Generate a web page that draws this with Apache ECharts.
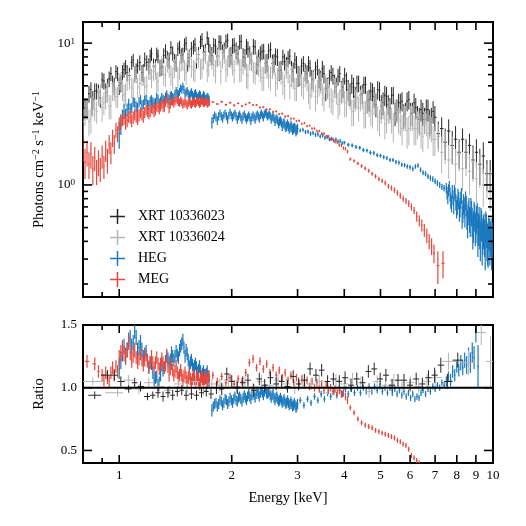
<!DOCTYPE html>
<html lang="en">
<head>
<meta charset="UTF-8">
<title>Spectrum and ratio</title>
<script src="https://cdn.jsdelivr.net/npm/echarts@6/dist/echarts.min.js"></script>
</head>
<body style="margin:0">
<div id="main" style="width:526px;height:526px;"></div>
<script type="text/javascript">
// [energy keV, value, error]
var xrt1Spec = [[0.80,3.9,0.6],[0.82,3.5,0.6],[0.84,4.7,0.6],[0.85,4.0,0.6],[0.87,4.6,0.6],[0.89,4.1,0.6],[0.91,5.4,0.7],[0.93,4.9,0.7],[0.95,6.1,0.7],[0.97,5.0,0.7],[0.99,6.1,0.7],[1.01,5.2,0.7],[1.03,6.5,0.8],[1.05,6.2,0.8],[1.08,7.3,0.8],[1.10,6.1,0.8],[1.12,6.9,0.8],[1.15,6.2,0.8],[1.17,7.7,0.9],[1.20,6.9,0.9],[1.22,8.4,0.9],[1.25,6.8,0.9],[1.27,8.1,0.9],[1.30,6.8,0.9],[1.33,8.8,1.0],[1.36,7.6,1.0],[1.39,8.5,1.0],[1.42,7.3,1.0],[1.45,9.4,1.0],[1.48,8.3,1.0],[1.51,10.0,1.1],[1.54,7.9,1.1],[1.58,9.4,1.1],[1.61,7.7,1.1],[1.65,10.2,1.1],[1.68,8.6,1.1],[1.72,10.9,1.2],[1.75,8.6,1.2],[1.79,9.7,1.2],[1.83,8.1,1.2],[1.87,10.1,1.2],[1.91,8.9,1.2],[1.95,10.5,1.2],[1.99,8.2,1.2],[2.03,9.7,1.2],[2.08,8.4,1.2],[2.12,10.3,1.2],[2.17,7.9,1.2],[2.21,9.1,1.2],[2.26,7.5,1.1],[2.31,9.4,1.1],[2.36,7.9,1.1],[2.41,8.7,1.1],[2.46,7.2,1.1],[2.51,8.8,1.1],[2.57,7.2,1.1],[2.62,8.1,1.1],[2.68,6.4,1.0],[2.74,8.0,1.0],[2.80,7.0,1.0],[2.86,8.1,1.0],[2.92,6.3,1.0],[2.98,7.1,1.0],[3.04,5.9,0.9],[3.11,7.2,0.9],[3.18,6.1,0.9],[3.24,6.7,0.9],[3.31,5.5,0.9],[3.39,6.8,0.9],[3.46,5.5,0.9],[3.53,6.1,0.9],[3.61,4.9,0.8],[3.69,6.2,0.8],[3.77,5.2,0.8],[3.85,5.8,0.8],[3.93,4.6,0.8],[4.01,5.9,0.8],[4.10,4.7,0.8],[4.19,5.2,0.8],[4.28,4.2,0.7],[4.37,5.2,0.7],[4.47,4.4,0.7],[4.56,5.1,0.7],[4.66,4.0,0.7],[4.76,4.5,0.7],[4.86,3.7,0.7],[4.97,4.6,0.7],[5.08,3.8,0.7],[5.19,4.2,0.7],[5.30,3.5,0.6],[5.41,4.3,0.6],[5.53,3.4,0.6],[5.65,3.8,0.6],[5.77,3.1,0.6],[5.89,3.9,0.6],[6.02,3.2,0.6],[6.15,3.8,0.6],[6.28,3.0,0.6],[6.42,3.4,0.6],[6.56,2.9,0.6],[6.70,3.4,0.6],[6.84,2.9,0.6],[6.99,3.0,0.6],[7.14,2.3,0.5],[7.29,2.5,0.5],[7.45,2.0,0.5],[7.61,2.4,0.5],[7.78,1.9,0.5],[7.94,2.1,0.5],[8.12,1.7,0.4],[8.29,2.1,0.4],[8.47,1.7,0.4],[8.65,1.9,0.4],[8.84,1.5,0.4],[9.03,1.7,0.4],[9.22,1.4,0.4],[9.42,1.6,0.4],[9.63,1.2,0.3],[9.83,1.2,0.3]];
var xrt1SpecFine = [[0.81,3.5,0.6],[0.83,4.4,0.6],[0.845,3.7,0.6],[0.86,4.6,0.6],[0.88,4.5,0.6],[0.90,5.5,0.7],[0.92,4.5,0.7],[0.94,5.6,0.7],[0.96,5.2,0.7],[0.98,6.3,0.7],[1.00,5.0,0.7],[1.02,6.2,0.8],[1.04,6.8,0.8],[1.065,5.9,0.8],[1.09,7.6,0.8],[1.11,6.4,0.8],[1.135,7.3,0.9],[1.16,6.2,0.9],[1.185,7.3,0.9],[1.21,8.1,0.9],[1.235,6.9,0.9],[1.26,8.4,0.9],[1.285,6.7,0.9],[1.315,8.2,1.0],[1.345,7.8,1.0],[1.375,9.3,1.0],[1.405,7.4,1.0],[1.435,9.1,1.0],[1.465,8.2,1.0],[1.495,9.7,1.1],[1.525,7.4,1.1],[1.56,9.1,1.1],[1.595,9.8,1.1],[1.63,8.3,1.1],[1.665,10.6,1.2],[1.70,8.7,1.2],[1.735,9.8,1.2],[1.77,8.2,1.2],[1.81,9.5,1.2],[1.85,10.2,1.2],[1.89,8.6,1.2],[1.93,10.3,1.2],[1.97,8.0,1.2],[2.01,9.6,1.2],[2.055,8.9,1.2],[2.10,10.2,1.2],[2.145,8.0,1.2],[2.19,9.5,1.2],[2.235,8.3,1.2],[2.285,9.5,1.2],[2.335,7.1,1.1],[2.385,8.4,1.1],[2.435,8.8,1.1],[2.485,7.3,1.1],[2.54,9.0,1.1],[2.595,7.3,1.1],[2.65,8.0,1.1],[2.71,6.5,1.0],[2.77,7.4,1.0],[2.83,7.8,1.0],[2.89,6.5,1.0],[2.95,7.6,1.0],[3.01,5.9,1.0],[3.075,6.9,0.9],[3.145,6.3,0.9],[3.21,7.2,0.9],[3.275,5.6,0.9],[3.35,6.5,0.9],[3.425,5.7,0.9],[3.495,6.6,0.9],[3.57,4.8,0.9],[3.65,5.7,0.8],[3.73,5.9,0.8],[3.81,4.9,0.8],[3.89,6.1,0.8],[3.97,4.9,0.8],[4.055,5.4,0.8],[4.145,4.4,0.8],[4.235,4.9,0.8],[4.325,5.2,0.7],[4.42,4.3,0.7],[4.515,5.1,0.7],[4.61,3.9,0.7],[4.71,4.6,0.7],[4.81,4.2,0.7],[4.915,4.7,0.7],[5.025,3.6,0.7],[5.135,4.3,0.7],[5.245,3.7,0.6],[5.355,4.3,0.6],[5.47,3.2,0.6],[5.59,3.8,0.6],[5.71,3.9,0.6],[5.83,3.2,0.6],[5.955,4.0,0.6],[6.085,3.2,0.6],[6.215,3.5,0.6],[6.35,2.9,0.6],[6.49,3.2,0.6],[6.63,3.4,0.6],[6.77,2.8,0.6],[6.915,3.3,0.6]];

var xrt2Spec = [[0.80,2.8,0.6],[0.82,3.5,0.6],[0.84,2.9,0.6],[0.85,3.6,0.6],[0.87,3.3,0.6],[0.89,4.4,0.7],[0.91,3.8,0.7],[0.93,4.5,0.7],[0.95,3.6,0.7],[0.97,4.6,0.7],[0.99,4.2,0.7],[1.01,5.4,0.8],[1.03,4.3,0.8],[1.05,5.4,0.8],[1.08,4.9,0.8],[1.10,6.1,0.8],[1.12,4.9,0.8],[1.15,5.9,0.9],[1.17,4.9,0.9],[1.20,6.4,0.9],[1.22,5.7,0.9],[1.25,6.4,0.9],[1.27,5.4,0.9],[1.30,7.1,1.0],[1.33,5.9,1.0],[1.36,6.7,1.0],[1.39,5.7,1.0],[1.42,7.4,1.0],[1.45,6.5,1.0],[1.48,7.5,1.1],[1.51,6.2,1.1],[1.54,7.7,1.1],[1.58,6.5,1.1],[1.61,8.3,1.1],[1.65,6.6,1.1],[1.68,7.6,1.1],[1.72,6.4,1.1],[1.75,8.1,1.2],[1.79,7.0,1.2],[1.83,7.9,1.2],[1.87,6.3,1.2],[1.91,8.3,1.2],[1.95,7.0,1.2],[1.99,7.8,1.2],[2.03,6.4,1.2],[2.08,8.1,1.2],[2.12,6.5,1.2],[2.17,7.6,1.2],[2.21,5.9,1.2],[2.26,7.5,1.1],[2.31,6.2,1.1],[2.36,6.9,1.1],[2.41,5.7,1.1],[2.46,7.2,1.1],[2.51,5.9,1.1],[2.57,6.7,1.1],[2.62,5.2,1.0],[2.68,6.5,1.0],[2.74,5.3,1.0],[2.80,6.6,1.0],[2.86,5.0,1.0],[2.92,5.7,1.0],[2.98,4.8,0.9],[3.04,6.0,0.9],[3.11,4.9,0.9],[3.18,5.5,0.9],[3.24,4.3,0.9],[3.31,5.4,0.9],[3.39,4.6,0.9],[3.46,5.3,0.9],[3.53,4.1,0.8],[3.61,4.8,0.8],[3.69,4.0,0.8],[3.77,4.9,0.8],[3.85,3.7,0.8],[3.93,4.5,0.8],[4.01,3.8,0.8],[4.10,4.4,0.8],[4.19,3.3,0.7],[4.28,4.0,0.7],[4.37,3.5,0.7],[4.47,4.1,0.7],[4.56,3.2,0.7],[4.66,3.7,0.7],[4.76,3.2,0.7],[4.86,3.8,0.7],[4.97,2.8,0.6],[5.08,3.5,0.6],[5.19,2.9,0.6],[5.30,3.3,0.6],[5.41,2.6,0.6],[5.53,3.3,0.6],[5.65,2.8,0.6],[5.77,3.0,0.6],[5.89,2.4,0.6],[6.02,3.0,0.6],[6.15,2.5,0.6],[6.28,2.7,0.6],[6.42,2.3,0.5],[6.56,2.8,0.5],[6.70,2.3,0.5],[6.84,2.5,0.5],[6.99,2.1,0.5],[7.14,2.2,0.5],[7.29,1.7,0.5],[7.45,1.9,0.5],[7.61,1.5,0.4],[7.78,1.8,0.4],[7.94,1.4,0.4],[8.12,1.65,0.4],[8.29,1.3,0.4],[8.47,1.55,0.4],[8.65,1.25,0.4],[8.84,1.45,0.4],[9.03,1.1,0.35],[9.22,1.3,0.35],[9.42,1.0,0.3],[9.63,1.1,0.3],[9.83,0.95,0.3]];
var xrt2SpecFine = [[0.81,3.2,0.6],[0.83,2.8,0.6],[0.845,3.7,0.6],[0.86,3.4,0.6],[0.88,4.2,0.6],[0.90,3.5,0.7],[0.92,4.1,0.7],[0.94,3.6,0.7],[0.96,4.6,0.7],[0.98,4.2,0.7],[1.00,5.4,0.7],[1.02,4.7,0.8],[1.04,4.4,0.8],[1.065,5.5,0.8],[1.09,4.8,0.8],[1.11,6.0,0.8],[1.135,5.2,0.9],[1.16,5.9,0.9],[1.185,5.0,0.9],[1.21,6.4,0.9],[1.235,6.3,0.9],[1.26,5.3,0.9],[1.285,6.8,1.0],[1.315,6.0,1.0],[1.345,7.2,1.0],[1.375,6.0,1.0],[1.405,6.7,1.0],[1.435,5.8,1.0],[1.465,7.4,1.1],[1.495,6.5,1.1],[1.525,8.1,1.1],[1.56,6.8,1.1],[1.595,6.4,1.1],[1.63,7.8,1.1],[1.665,6.7,1.1],[1.70,8.2,1.1],[1.735,7.0,1.2],[1.77,7.7,1.2],[1.81,6.4,1.2],[1.85,8.1,1.2],[1.89,7.8,1.2],[1.93,6.5,1.2],[1.97,8.1,1.2],[2.01,7.1,1.2],[2.055,8.2,1.2],[2.10,6.5,1.2],[2.145,7.2,1.2],[2.19,6.0,1.2],[2.235,7.5,1.1],[2.285,6.3,1.1],[2.335,7.6,1.1],[2.385,6.4,1.1],[2.435,5.7,1.1],[2.485,6.7,1.1],[2.54,5.7,1.1],[2.595,6.9,1.0],[2.65,5.7,1.0],[2.71,6.1,1.0],[2.77,5.0,1.0],[2.83,6.2,1.0],[2.89,5.9,1.0],[2.95,4.8,0.9],[3.01,5.9,0.9],[3.075,5.1,0.9],[3.145,5.8,0.9],[3.21,4.6,0.9],[3.275,5.0,0.9],[3.35,4.2,0.9],[3.425,5.1,0.9],[3.495,4.4,0.8],[3.57,5.2,0.8],[3.65,4.3,0.8],[3.73,3.9,0.8],[3.81,4.5,0.8],[3.89,3.9,0.8],[3.97,4.6,0.8],[4.055,3.8,0.8],[4.145,4.1,0.7],[4.235,3.3,0.7],[4.325,4.1,0.7],[4.42,4.0,0.7],[4.515,3.2,0.7],[4.61,3.9,0.7],[4.71,3.3,0.7],[4.81,3.8,0.7],[4.915,3.0,0.6],[5.025,3.3,0.6],[5.135,2.7,0.6],[5.245,3.3,0.6],[5.355,2.9,0.6],[5.47,3.4,0.6],[5.59,2.9,0.6],[5.71,2.5,0.6],[5.83,3.0,0.6],[5.955,2.5,0.6],[6.085,3.0,0.6],[6.215,2.5,0.6],[6.35,2.7,0.5],[6.49,2.2,0.5],[6.63,2.7,0.5],[6.77,2.6,0.5],[6.915,2.1,0.5]];

var hegSpec = [[1.00,2.3,0.5],[1.02,3.0,0.4],[1.04,3.1,0.35],[1.06,3.7,0.35],[1.08,3.5,0.3],[1.10,3.8,0.3],[1.12,3.5,0.3],[1.14,4.0,0.3],[1.16,3.7,0.3],[1.18,4.0,0.3],[1.20,3.65,0.3],[1.22,4.0,0.3],[1.24,3.75,0.3],[1.26,4.15,0.3],[1.28,3.75,0.3],[1.30,4.15,0.3],[1.32,3.95,0.3],[1.34,4.35,0.3],[1.36,4.0,0.3],[1.38,4.3,0.3],[1.40,4.1,0.3],[1.42,4.6,0.3],[1.44,4.35,0.3],[1.46,4.8,0.3],[1.48,4.95,0.3],[1.50,4.4,0.3],[1.52,4.6,0.3],[1.54,4.25,0.3],[1.56,4.5,0.3],[1.58,4.15,0.3],[1.60,4.45,0.3],[1.62,4.1,0.3],[1.64,4.35,0.3],[1.66,4.0,0.3],[1.68,4.3,0.3],[1.70,4.0,0.3],[1.72,4.15,0.3],[1.74,3.95,0.3],
  [1.77,2.75,0.25],[1.80,3.1,0.2],[1.83,2.85,0.2],[1.86,3.2,0.2],[1.89,2.95,0.2],[1.92,3.2,0.2],[1.95,2.9,0.2],[1.98,3.25,0.2],[2.01,3.0,0.2],[2.04,3.2,0.2],[2.07,2.9,0.2],[2.10,3.15,0.2],[2.13,2.9,0.2],[2.16,3.15,0.2],[2.19,2.9,0.2],[2.22,3.1,0.2],[2.25,2.85,0.2],[2.28,3.1,0.2],[2.31,2.9,0.2],[2.34,3.15,0.2],[2.37,2.95,0.2],[2.40,3.2,0.2],[2.43,3.0,0.2],[2.46,3.25,0.2],[2.49,3.05,0.2],[2.52,3.15,0.2],[2.55,2.9,0.2],[2.58,3.05,0.2],[2.61,2.8,0.2],[2.64,2.95,0.2],[2.67,2.7,0.2],[2.70,2.85,0.2],[2.73,2.6,0.2],[2.76,2.75,0.2],[2.79,2.55,0.2],[2.82,2.7,0.2],[2.85,2.5,0.2],[2.88,2.65,0.2],[2.91,2.45,0.2],[2.94,2.55,0.2],[2.97,2.4,0.2],[3.00,2.5,0.2],
  [3.05,2.42,0.08],[3.10,2.45,0.08],[3.15,2.36,0.08],[3.20,2.38,0.08],[3.25,2.30,0.08],[3.30,2.33,0.08],[3.35,2.26,0.08],[3.40,2.28,0.08],[3.45,2.20,0.07],[3.50,2.23,0.07],[3.55,2.15,0.07],[3.60,2.18,0.07],[3.65,2.10,0.07],[3.70,2.12,0.07],[3.75,2.06,0.07],[3.80,2.09,0.07],[3.85,2.02,0.07],[3.90,2.04,0.07],[3.95,1.97,0.06],[4.00,1.99,0.06],[4.10,1.92,0.06],[4.20,1.90,0.06],[4.30,1.85,0.06],[4.40,1.83,0.06],[4.50,1.76,0.06],[4.60,1.75,0.06],[4.70,1.69,0.06],[4.80,1.68,0.06],[4.90,1.62,0.05],[5.00,1.61,0.05],[5.10,1.57,0.05],[5.20,1.55,0.05],[5.30,1.50,0.05],[5.40,1.50,0.05],[5.50,1.45,0.05],[5.60,1.44,0.05],[5.70,1.39,0.05],[5.80,1.38,0.05],[5.90,1.35,0.05],[6.00,1.33,0.05],[6.10,1.30,0.05],[6.20,1.35,0.05],[6.30,1.37,0.05],[6.40,1.28,0.05],[6.50,1.22,0.05],[6.60,1.20,0.05],[6.70,1.15,0.05],[6.80,1.12,0.05],[6.90,1.10,0.05],[7.00,1.06,0.05],[7.10,1.03,0.05],[7.20,1.00,0.05],[7.30,0.97,0.05],[7.40,0.95,0.05],
  [7.50,0.95,0.08],[7.57,0.82,0.09],[7.64,0.98,0.09],[7.71,0.78,0.1],[7.78,0.9,0.1],[7.85,0.72,0.1],[7.92,0.86,0.1],[7.99,0.68,0.1],[8.06,0.83,0.11],[8.13,0.66,0.11],[8.20,0.79,0.11],[8.27,0.6,0.11],[8.34,0.74,0.12],[8.41,0.62,0.12],[8.48,0.72,0.12],[8.55,0.54,0.12],[8.62,0.69,0.12],[8.69,0.55,0.12],[8.76,0.64,0.13],[8.83,0.48,0.13],[8.90,0.63,0.13],[8.97,0.5,0.13],[9.04,0.58,0.13],[9.11,0.44,0.13],[9.18,0.57,0.13],[9.25,0.42,0.13],[9.32,0.53,0.13],[9.39,0.45,0.13],[9.46,0.5,0.13],[9.53,0.38,0.13],[9.60,0.49,0.13],[9.67,0.4,0.13],[9.74,0.47,0.12],[9.81,0.39,0.12],[9.88,0.46,0.12],[9.95,0.42,0.12]];
var hegSpecFine = [[1.01,2.7,0.45],[1.03,3.3,0.4],[1.05,3.4,0.35],[1.07,3.45,0.3],[1.09,3.85,0.3],[1.11,3.6,0.3],[1.13,3.85,0.3],[1.15,3.65,0.3],[1.17,3.95,0.3],[1.19,3.7,0.3],[1.21,3.9,0.3],[1.23,3.85,0.3],[1.25,3.8,0.3],[1.27,4.05,0.3],[1.29,3.9,0.3],[1.31,4.0,0.3],[1.33,4.2,0.3],[1.35,4.1,0.3],[1.37,4.25,0.3],[1.39,4.15,0.3],[1.41,4.4,0.3],[1.43,4.45,0.3],[1.45,4.55,0.3],[1.47,4.7,0.3],[1.49,4.7,0.3],[1.51,4.5,0.3],[1.53,4.4,0.3],[1.55,4.35,0.3],[1.57,4.3,0.3],[1.59,4.35,0.3],[1.61,4.25,0.3],[1.63,4.2,0.3],[1.65,4.25,0.3],[1.67,4.1,0.3],[1.69,4.2,0.3],[1.71,4.05,0.3],[1.73,4.1,0.3],
  [1.785,2.95,0.2],[1.815,3.0,0.2],[1.845,3.05,0.2],[1.875,3.05,0.2],[1.905,3.1,0.2],[1.935,3.05,0.2],[1.965,3.1,0.2],[1.995,3.1,0.2],[2.025,3.1,0.2],[2.055,3.05,0.2],[2.085,3.05,0.2],[2.115,3.0,0.2],[2.145,3.05,0.2],[2.175,3.0,0.2],[2.205,3.0,0.2],[2.235,3.0,0.2],[2.265,3.0,0.2],[2.295,3.0,0.2],[2.325,3.05,0.2],[2.355,3.05,0.2],[2.385,3.1,0.2],[2.415,3.1,0.2],[2.445,3.15,0.2],[2.475,3.15,0.2],[2.505,3.1,0.2],[2.535,3.05,0.2],[2.565,3.0,0.2],[2.595,2.95,0.2],[2.625,2.9,0.2],[2.655,2.85,0.2],[2.685,2.8,0.2],[2.715,2.75,0.2],[2.745,2.7,0.2],[2.775,2.65,0.2],[2.805,2.6,0.2],[2.835,2.6,0.2],[2.865,2.55,0.2],[2.895,2.55,0.2],[2.925,2.5,0.2],[2.955,2.5,0.2],[2.985,2.45,0.2],
  [7.535,0.88,0.09],[7.605,0.92,0.09],[7.675,0.86,0.1],[7.745,0.74,0.1],[7.815,0.82,0.1],[7.885,0.9,0.1],[7.955,0.76,0.1],[8.025,0.72,0.11],[8.095,0.78,0.11],[8.165,0.7,0.11],[8.235,0.84,0.11],[8.305,0.66,0.12],[8.375,0.7,0.12],[8.445,0.78,0.12],[8.515,0.6,0.12],[8.585,0.64,0.12],[8.655,0.58,0.12],[8.725,0.68,0.13],[8.795,0.56,0.13],[8.865,0.52,0.13],[8.935,0.6,0.13],[9.005,0.52,0.13],[9.075,0.62,0.13],[9.145,0.5,0.13],[9.215,0.48,0.13],[9.285,0.56,0.13],[9.355,0.4,0.13],[9.425,0.48,0.13],[9.495,0.44,0.13],[9.565,0.52,0.13],[9.635,0.42,0.13],[9.705,0.38,0.12],[9.775,0.46,0.12],[9.845,0.43,0.12],[9.915,0.37,0.12]];

var megSpec = [[0.80,1.85,0.4],[0.81,1.45,0.35],[0.82,1.7,0.35],[0.83,1.4,0.3],[0.84,1.65,0.35],[0.85,1.3,0.3],[0.86,1.55,0.3],[0.87,1.25,0.25],[0.88,1.45,0.3],[0.89,1.3,0.25],[0.90,1.6,0.3],[0.91,1.35,0.25],[0.92,1.75,0.3],[0.93,1.5,0.3],[0.94,1.95,0.3],[0.95,1.7,0.3],[0.96,2.15,0.3],[0.97,1.95,0.3],[0.98,2.45,0.3],[0.99,2.3,0.3],[1.00,2.7,0.3],
  [1.02,2.9,0.3],[1.04,2.75,0.3],[1.06,3.05,0.3],[1.08,2.85,0.3],[1.10,3.15,0.3],[1.12,2.95,0.3],[1.14,3.25,0.3],[1.16,3.05,0.3],[1.18,3.4,0.3],[1.20,3.2,0.3],[1.22,3.5,0.3],[1.24,3.3,0.3],[1.26,3.6,0.3],[1.28,3.45,0.3],[1.30,3.75,0.3],[1.32,3.55,0.3],[1.34,4.1,0.35],[1.36,3.5,0.3],[1.38,3.9,0.25],[1.40,3.75,0.25],[1.42,4.05,0.25],[1.44,3.85,0.25],[1.46,3.95,0.25],[1.48,3.7,0.25],[1.50,3.85,0.25],[1.52,3.65,0.25],[1.54,3.9,0.25],[1.56,3.7,0.25],[1.58,3.9,0.25],[1.60,3.75,0.25],[1.62,3.95,0.25],[1.64,3.75,0.25],[1.66,3.95,0.25],[1.68,3.8,0.25],[1.70,3.9,0.25],[1.72,3.75,0.25],[1.74,3.85,0.25],
  [1.78,3.85,0.06],[1.83,3.72,0.06],[1.88,3.86,0.06],[1.93,3.68,0.06],[1.98,3.8,0.06],[2.03,3.64,0.06],[2.08,3.76,0.06],[2.13,3.6,0.06],[2.18,3.7,0.06],[2.23,3.8,0.06],[2.28,3.66,0.06],[2.33,3.66,0.06],[2.38,3.52,0.06],[2.43,3.54,0.06],[2.48,3.4,0.06],[2.53,3.42,0.06],[2.58,3.28,0.06],[2.63,3.3,0.06],[2.68,3.16,0.06],[2.73,3.18,0.06],[2.78,3.04,0.06],[2.83,3.06,0.06],[2.88,2.94,0.05],[2.93,2.94,0.05],[2.98,2.82,0.05],[3.03,2.84,0.05],[3.08,2.7,0.05],[3.13,2.73,0.05],[3.18,2.6,0.05],[3.23,2.62,0.05],[3.28,2.5,0.05],[3.33,2.5,0.05],[3.38,2.4,0.05],[3.43,2.4,0.05],[3.48,2.3,0.05],[3.53,2.3,0.05],[3.58,2.2,0.05],[3.63,2.2,0.05],[3.68,2.1,0.05],[3.73,2.1,0.05],[3.78,2.01,0.05],[3.83,2.0,0.05],[3.88,1.91,0.05],[3.93,1.9,0.05],[3.98,1.82,0.05],[4.03,1.8,0.05],[4.08,1.72,0.05],
  [4.15,1.52,0.04],[4.25,1.48,0.04],[4.35,1.42,0.04],[4.45,1.36,0.04],[4.55,1.31,0.04],[4.65,1.26,0.04],[4.75,1.20,0.04],[4.85,1.15,0.04],[4.95,1.10,0.04],[5.05,1.07,0.04],[5.15,1.03,0.04],[5.25,0.98,0.04],[5.35,0.95,0.04],[5.45,0.92,0.04],[5.55,0.88,0.04],[5.65,0.84,0.04],[5.75,0.80,0.04],[5.85,0.77,0.04],[5.95,0.74,0.04],[6.05,0.70,0.04],[6.15,0.66,0.04],[6.25,0.60,0.05],[6.35,0.56,0.05],[6.45,0.52,0.05],[6.55,0.48,0.05],[6.65,0.44,0.05],[6.75,0.40,0.05],[6.85,0.37,0.05],[6.95,0.33,0.05],[7.12,0.27,0.07],[7.35,0.28,0.06]];
var megSpecFine = [[1.01,2.75,0.3],[1.03,2.95,0.3],[1.05,2.85,0.3],[1.07,3.0,0.3],[1.09,3.0,0.3],[1.11,3.05,0.3],[1.13,3.1,0.3],[1.15,3.15,0.3],[1.17,3.25,0.3],[1.19,3.3,0.3],[1.21,3.3,0.3],[1.23,3.45,0.3],[1.25,3.4,0.3],[1.27,3.55,0.3],[1.29,3.6,0.3],[1.31,3.6,0.3],[1.33,3.85,0.3],[1.35,3.8,0.3],[1.37,3.7,0.25],[1.39,3.85,0.25],[1.41,3.9,0.25],[1.43,3.95,0.25],[1.45,3.8,0.25],[1.47,3.85,0.25],[1.49,3.75,0.25],[1.51,3.75,0.25],[1.53,3.8,0.25],[1.55,3.75,0.25],[1.57,3.8,0.25],[1.59,3.8,0.25],[1.61,3.85,0.25],[1.63,3.85,0.25],[1.65,3.8,0.25],[1.67,3.9,0.25],[1.69,3.8,0.25],[1.71,3.85,0.25],[1.73,3.8,0.25]];

var xrt1Ratio = [[0.86,0.94,0.03],[0.93,1.10,0.04],[0.97,1.10,0.04],[1.01,1.05,0.04],[1.06,0.99,0.03],[1.10,1.04,0.04],[1.14,1.01,0.04],[1.19,0.93,0.03],[1.23,0.94,0.03],[1.27,0.96,0.04],[1.31,0.93,0.04],[1.35,0.96,0.04],[1.39,0.94,0.04],[1.43,0.97,0.04],[1.47,0.98,0.04],[1.51,0.94,0.04],[1.56,0.95,0.04],[1.61,0.94,0.04],[1.66,0.96,0.04],[1.71,0.97,0.04],[1.76,0.95,0.04],[1.82,1.00,0.05],[1.88,0.99,0.05],[1.94,1.11,0.05],[2.00,1.05,0.05],[2.07,1.00,0.05],[2.14,1.04,0.05],[2.21,1.06,0.05],[2.29,0.98,0.05],[2.37,1.07,0.05],[2.45,1.02,0.05],[2.54,1.08,0.05],[2.63,1.03,0.05],[2.72,1.05,0.05],[2.82,1.01,0.05],[2.92,1.09,0.05],[3.02,1.03,0.05],[3.13,1.06,0.05],[3.24,1.15,0.05],[3.36,1.10,0.05],[3.48,1.14,0.05],[3.61,1.05,0.05],[3.74,1.07,0.05],[3.88,1.05,0.05],[4.02,1.08,0.05],[4.17,1.02,0.05],[4.32,1.07,0.05],[4.48,1.04,0.05],[4.64,1.13,0.05],[4.81,1.15,0.05],[4.99,1.07,0.05],[5.17,1.10,0.05],[5.37,1.02,0.05],[5.57,1.06,0.05],[5.78,1.06,0.05],[6.00,1.02,0.05],[6.23,1.07,0.05],[6.47,1.03,0.05],[6.72,1.08,0.06],[6.98,1.10,0.06],[7.25,1.18,0.06],[7.55,1.05,0.06],[8.05,1.22,0.06]];

var xrt2Ratio = [[0.85,1.05,0.03],[0.99,0.96,0.03],[1.06,1.06,0.04],[1.13,0.99,0.04],[1.20,1.04,0.04],[1.28,1.01,0.04],[1.36,0.98,0.04],[1.44,1.03,0.04],[1.52,1.00,0.04],[1.60,1.05,0.04],[1.68,0.98,0.04],[1.77,1.03,0.04],[1.86,1.02,0.05],[1.96,1.06,0.05],[2.06,1.01,0.05],[2.17,1.04,0.05],[2.28,0.99,0.05],[2.40,1.05,0.05],[2.53,1.02,0.05],[2.66,1.06,0.05],[2.80,1.03,0.05],[2.95,1.00,0.05],[3.10,1.06,0.05],[3.26,1.03,0.05],[3.43,1.05,0.05],[3.61,1.00,0.05],[3.80,1.06,0.05],[4.00,1.03,0.05],[4.21,1.07,0.05],[4.43,1.04,0.05],[4.66,0.97,0.05],[4.90,1.05,0.05],[5.16,1.02,0.05],[5.43,1.06,0.05],[5.71,1.00,0.05],[6.01,1.04,0.05],[6.33,1.01,0.05],[6.66,1.05,0.06],[7.01,1.08,0.06],[7.60,1.21,0.07],[8.60,1.20,0.1],[9.30,1.44,0.1],[9.85,1.21,0.2]];

var hegRatio = [[1.00,1.15,0.08],[1.02,1.28,0.07],[1.04,1.26,0.06],[1.06,1.38,0.06],[1.08,1.33,0.06],[1.10,1.45,0.06],[1.12,1.3,0.06],[1.14,1.36,0.06],[1.16,1.24,0.06],[1.18,1.29,0.05],[1.20,1.16,0.05],[1.22,1.19,0.05],[1.24,1.06,0.05],[1.26,1.09,0.05],[1.28,1.04,0.05],[1.30,1.18,0.05],[1.32,1.16,0.05],[1.34,1.25,0.05],[1.36,1.2,0.05],[1.38,1.28,0.05],[1.40,1.22,0.05],[1.42,1.29,0.05],[1.44,1.24,0.05],[1.46,1.33,0.05],[1.48,1.38,0.05],[1.50,1.25,0.05],[1.52,1.27,0.05],[1.54,1.17,0.05],[1.56,1.22,0.05],[1.58,1.15,0.05],[1.60,1.19,0.05],[1.62,1.12,0.05],[1.64,1.17,0.05],[1.66,1.09,0.05],[1.68,1.13,0.05],[1.70,1.08,0.05],[1.72,1.13,0.05],[1.74,1.06,0.05],
  [1.77,0.82,0.05],[1.80,0.87,0.04],[1.83,0.85,0.04],[1.86,0.9,0.04],[1.89,0.86,0.04],[1.92,0.91,0.04],[1.95,0.87,0.04],[1.98,0.92,0.04],[2.01,0.88,0.04],[2.04,0.93,0.04],[2.07,0.89,0.04],[2.10,0.93,0.04],[2.13,0.89,0.04],[2.16,0.94,0.04],[2.19,0.9,0.04],[2.22,0.95,0.04],[2.25,0.91,0.04],[2.28,0.96,0.04],[2.31,0.92,0.04],[2.34,0.97,0.04],[2.37,0.93,0.04],[2.40,0.98,0.04],[2.43,0.94,0.04],[2.46,0.99,0.04],[2.49,0.95,0.04],[2.52,0.97,0.04],[2.55,0.92,0.04],[2.58,0.95,0.04],[2.61,0.9,0.04],[2.64,0.93,0.04],[2.67,0.89,0.04],[2.70,0.92,0.04],[2.73,0.88,0.04],[2.76,0.91,0.04],[2.79,0.87,0.04],[2.82,0.9,0.04],[2.85,0.86,0.04],[2.88,0.89,0.04],[2.91,0.85,0.04],[2.94,0.88,0.04],[2.97,0.84,0.04],[3.00,0.87,0.04],
  [3.05,0.9,0.025],[3.12,0.86,0.025],[3.19,0.91,0.025],[3.26,0.88,0.025],[3.33,0.93,0.025],[3.40,0.9,0.025],[3.47,0.95,0.025],[3.54,0.91,0.025],[3.61,0.96,0.025],[3.68,0.93,0.025],[3.75,0.97,0.025],[3.82,0.94,0.025],[3.89,0.98,0.025],[3.96,0.95,0.025],[4.03,0.99,0.025],[4.10,0.95,0.025],[4.18,0.99,0.025],[4.26,0.96,0.025],[4.34,1.0,0.025],[4.42,0.96,0.025],[4.50,1.0,0.025],[4.58,0.97,0.025],[4.66,1.01,0.025],[4.74,0.97,0.025],[4.82,1.01,0.025],[4.90,0.98,0.025],[4.98,1.01,0.025],[5.06,0.97,0.025],[5.14,1.0,0.025],[5.22,0.96,0.025],[5.30,1.0,0.025],[5.38,0.96,0.025],[5.46,0.99,0.025],[5.54,0.95,0.025],[5.62,0.98,0.025],[5.70,0.94,0.025],[5.78,0.97,0.025],[5.86,0.93,0.025],[5.94,0.96,0.025],[6.02,0.92,0.025],[6.10,0.95,0.025],[6.18,0.91,0.025],[6.26,0.93,0.025],[6.34,0.92,0.025],[6.42,0.96,0.025],[6.50,0.98,0.025],[6.60,0.95,0.025],[6.70,0.99,0.025],[6.80,0.97,0.025],[6.90,1.01,0.025],[7.00,0.99,0.025],[7.10,1.02,0.025],[7.20,1.0,0.025],[7.30,1.04,0.025],[7.40,1.02,0.025],
  [7.50,1.05,0.04],[7.60,1.09,0.04],[7.70,1.06,0.05],[7.80,1.13,0.05],[7.90,1.1,0.05],[8.00,1.17,0.05],[8.10,1.14,0.05],[8.20,1.2,0.06],[8.30,1.16,0.06],[8.40,1.22,0.06],[8.50,1.18,0.07],[8.60,1.25,0.07],[8.70,1.2,0.08],[8.80,1.28,0.08],[8.90,1.24,0.09],[9.00,1.46,0.1],[9.12,1.17,0.17]];
var hegRatioFine = [[1.01,1.22,0.07],[1.03,1.33,0.06],[1.05,1.3,0.06],[1.07,1.4,0.06],[1.09,1.36,0.06],[1.11,1.4,0.06],[1.13,1.32,0.06],[1.15,1.3,0.06],[1.17,1.27,0.05],[1.19,1.22,0.05],[1.21,1.2,0.05],[1.23,1.12,0.05],[1.25,1.08,0.05],[1.27,1.02,0.05],[1.29,1.1,0.05],[1.31,1.14,0.05],[1.33,1.21,0.05],[1.35,1.23,0.05],[1.37,1.22,0.05],[1.39,1.25,0.05],[1.41,1.25,0.05],[1.43,1.26,0.05],[1.45,1.3,0.05],[1.47,1.35,0.05],[1.49,1.32,0.05],[1.51,1.3,0.05],[1.53,1.22,0.05],[1.55,1.2,0.05],[1.57,1.18,0.05],[1.59,1.17,0.05],[1.61,1.16,0.05],[1.63,1.14,0.05],[1.65,1.13,0.05],[1.67,1.11,0.05],[1.69,1.1,0.05],[1.71,1.11,0.05],[1.73,1.09,0.05],
  [1.785,0.85,0.04],[1.815,0.88,0.04],[1.845,0.87,0.04],[1.875,0.89,0.04],[1.905,0.88,0.04],[1.935,0.9,0.04],[1.965,0.89,0.04],[1.995,0.9,0.04],[2.025,0.91,0.04],[2.055,0.9,0.04],[2.085,0.92,0.04],[2.115,0.91,0.04],[2.145,0.92,0.04],[2.175,0.92,0.04],[2.205,0.93,0.04],[2.235,0.93,0.04],[2.265,0.94,0.04],[2.295,0.94,0.04],[2.325,0.95,0.04],[2.355,0.95,0.04],[2.385,0.96,0.04],[2.415,0.96,0.04],[2.445,0.97,0.04],[2.475,0.96,0.04],[2.505,0.96,0.04],[2.535,0.94,0.04],[2.565,0.94,0.04],[2.595,0.92,0.04],[2.625,0.92,0.04],[2.655,0.91,0.04],[2.685,0.9,0.04],[2.715,0.9,0.04],[2.745,0.89,0.04],[2.775,0.89,0.04],[2.805,0.88,0.04],[2.835,0.88,0.04],[2.865,0.87,0.04],[2.895,0.87,0.04],[2.925,0.86,0.04],[2.955,0.86,0.04],[2.985,0.85,0.04]];

var megRatio = [[0.82,1.21,0.05],[0.86,1.19,0.05],[0.88,1.13,0.05],[0.90,1.1,0.05],[0.91,1.06,0.05],[0.92,1.12,0.05],[0.93,1.08,0.05],[0.94,1.05,0.05],[0.95,1.12,0.05],[0.96,1.16,0.05],[0.97,1.1,0.05],[0.98,1.17,0.05],[0.99,1.13,0.05],[1.00,1.24,0.06],
  [1.02,1.32,0.06],[1.04,1.24,0.06],[1.06,1.36,0.06],[1.08,1.22,0.06],[1.10,1.3,0.06],[1.12,1.2,0.05],[1.14,1.27,0.05],[1.16,1.18,0.05],[1.18,1.26,0.05],[1.20,1.17,0.05],[1.22,1.25,0.05],[1.24,1.16,0.05],[1.26,1.24,0.05],[1.28,1.15,0.05],[1.30,1.23,0.05],[1.32,1.16,0.05],[1.34,1.26,0.05],[1.36,1.1,0.05],[1.38,1.19,0.05],[1.40,1.1,0.05],[1.42,1.17,0.05],[1.44,1.08,0.05],[1.46,1.14,0.05],[1.48,1.06,0.05],[1.50,1.12,0.05],[1.52,1.05,0.05],[1.54,1.11,0.05],[1.56,1.04,0.05],[1.58,1.1,0.05],[1.60,1.04,0.05],[1.62,1.1,0.05],[1.64,1.03,0.05],[1.66,1.09,0.05],[1.68,1.04,0.05],[1.70,1.1,0.05],[1.72,1.04,0.05],[1.74,1.09,0.05],
  [1.78,1.1,0.03],[1.83,1.05,0.03],[1.88,1.09,0.03],[1.93,1.04,0.03],[1.98,1.08,0.03],[2.03,1.03,0.03],[2.08,1.07,0.03],[2.13,1.05,0.03],[2.18,1.12,0.03],[2.23,1.2,0.03],[2.28,1.23,0.03],[2.33,1.16,0.03],[2.38,1.21,0.03],[2.43,1.15,0.03],[2.48,1.19,0.03],[2.53,1.12,0.03],[2.58,1.16,0.03],[2.63,1.1,0.03],[2.68,1.14,0.03],[2.73,1.08,0.03],[2.78,1.12,0.03],[2.83,1.06,0.03],[2.88,1.1,0.03],[2.93,1.04,0.03],[2.98,1.08,0.03],[3.03,1.03,0.03],[3.08,1.07,0.03],[3.13,1.02,0.03],[3.18,1.06,0.03],[3.23,1.01,0.03],[3.28,1.05,0.03],[3.33,1.0,0.03],[3.38,1.04,0.03],[3.43,0.99,0.03],[3.48,1.03,0.03],[3.53,0.98,0.03],[3.58,1.02,0.03],[3.63,0.98,0.03],[3.68,1.0,0.03],[3.73,0.97,0.03],[3.78,0.99,0.03],[3.83,0.96,0.03],[3.88,0.98,0.03],[3.93,0.95,0.03],[3.98,0.96,0.03],[4.03,0.93,0.03],[4.08,0.9,0.03],
  [4.15,0.84,0.02],[4.25,0.8,0.02],[4.35,0.75,0.02],[4.45,0.72,0.02],[4.55,0.7,0.02],[4.65,0.69,0.02],[4.75,0.68,0.02],[4.85,0.66,0.02],[4.95,0.65,0.02],[5.05,0.64,0.02],[5.15,0.63,0.02],[5.25,0.62,0.02],[5.35,0.61,0.02],[5.45,0.6,0.02],[5.55,0.58,0.02],[5.65,0.57,0.02],[5.75,0.55,0.02],[5.85,0.54,0.02],[5.95,0.51,0.02],[6.05,0.46,0.02],[6.15,0.44,0.02],[6.25,0.42,0.02],[6.35,0.4,0.02],[6.45,0.38,0.02]];
var megRatioFine = [[1.01,1.28,0.06],[1.03,1.27,0.06],[1.05,1.3,0.06],[1.07,1.28,0.06],[1.09,1.26,0.06],[1.11,1.24,0.05],[1.13,1.23,0.05],[1.15,1.22,0.05],[1.17,1.22,0.05],[1.19,1.21,0.05],[1.21,1.2,0.05],[1.23,1.2,0.05],[1.25,1.2,0.05],[1.27,1.19,0.05],[1.29,1.19,0.05],[1.31,1.2,0.05],[1.33,1.18,0.05],[1.35,1.17,0.05],[1.37,1.15,0.05],[1.39,1.14,0.05],[1.41,1.13,0.05],[1.43,1.12,0.05],[1.45,1.1,0.05],[1.47,1.1,0.05],[1.49,1.09,0.05],[1.51,1.08,0.05],[1.53,1.08,0.05],[1.55,1.07,0.05],[1.57,1.07,0.05],[1.59,1.07,0.05],[1.61,1.07,0.05],[1.63,1.06,0.05],[1.65,1.06,0.05],[1.67,1.07,0.05],[1.69,1.07,0.05],[1.71,1.07,0.05],[1.73,1.06,0.05]];

var unityLine = [[0.8, 1], [10, 1]];

var names = ['XRT 10336023', 'XRT 10336024', 'HEG', 'MEG'];
var colors = ['#262626', '#b4b4b4', '#1a78bd', '#e8473b'];

var energyTicks = [0.9, 1, 2, 3, 4, 5, 6, 7, 8, 9, 10];
var energyLabels = [1, 2, 3, 4, 5, 6, 7, 8, 9, 10];
var fluxTicks = [0.2, 0.3, 0.4, 0.5, 0.6, 0.7, 0.8, 0.9, 1, 2, 3, 4, 5, 6, 7, 8, 9, 10];
var fluxMajor = [1, 10];
var ratioTicks = [0.5, 1.0, 1.5];

var font = "'Liberation Serif', 'Times New Roman', serif";

function merged(a, b) {
    return a.concat(b).sort(function (p, q) { return p[0] - q[0]; });
}

// add bin edges (geometric midpoints between neighbours)
function withBins(pts) {
    return pts.map(function (p, i) {
        var lo = i > 0 ? Math.sqrt(p[0] * pts[i - 1][0]) : null;
        var hi = i < pts.length - 1 ? Math.sqrt(p[0] * pts[i + 1][0]) : null;
        if (lo === null) lo = p[0] * p[0] / hi;
        if (hi === null) hi = p[0] * p[0] / lo;
        return [p[0], p[1], p[2], lo, hi];
    });
}

function errSeries(name, color, pts, gi, floor, frac, z, lw) {
    return {
        name: name,
        type: 'custom',
        xAxisIndex: gi,
        yAxisIndex: gi,
        clip: true,
        silent: true,
        z: z,
        itemStyle: {color: color},
        encode: {x: 0, y: 1},
        data: withBins(pts),
        renderItem: function (params, api) {
            var e = api.value(0), v = api.value(1), d = api.value(2);
            var lo = Math.exp(Math.log(e) + (Math.log(api.value(3)) - Math.log(e)) * frac);
            var hi = Math.exp(Math.log(e) + (Math.log(api.value(4)) - Math.log(e)) * frac);
            var c = api.coord([e, v]);
            var t = api.coord([e, v + d]);
            var b = api.coord([e, Math.max(v - d, floor)]);
            var l = api.coord([lo, v]);
            var r = api.coord([hi, v]);
            return {
                type: 'group',
                children: [
                    {type: 'line', shape: {x1: c[0], y1: t[1], x2: c[0], y2: b[1]}, style: {stroke: color, lineWidth: lw}},
                    {type: 'line', shape: {x1: l[0], y1: c[1], x2: r[0], y2: c[1]}, style: {stroke: color, lineWidth: lw}}
                ]
            };
        }
    };
}

function xTicks(gi, withLabels) {
    return {
        type: 'custom', xAxisIndex: gi, yAxisIndex: gi, silent: true, clip: false, z: 20,
        data: energyTicks.map(function (v) { return [v, 1, energyLabels.indexOf(v) >= 0 ? 1 : 0]; }),
        renderItem: function (params, api) {
            var cs = params.coordSys;
            var x = api.coord([api.value(0), 1])[0];
            var len = api.value(2) ? 8 : 5;
            var kids = [
                {type: 'line', shape: {x1: x, y1: cs.y, x2: x, y2: cs.y + len}, style: {stroke: '#000', lineWidth: 1.6}},
                {type: 'line', shape: {x1: x, y1: cs.y + cs.height, x2: x, y2: cs.y + cs.height - len}, style: {stroke: '#000', lineWidth: 1.6}}
            ];
            if (withLabels && api.value(2)) {
                kids.push({type: 'text', x: x, y: cs.y + cs.height + 6,
                    style: {text: String(api.value(0)), fill: '#000', fontSize: 13, fontFamily: font, align: 'center', verticalAlign: 'top'}});
            }
            return {type: 'group', children: kids};
        }
    };
}

function yTicks(gi, vals, majors, withLabels) {
    return {
        type: 'custom', xAxisIndex: gi, yAxisIndex: gi, silent: true, clip: false, z: 20,
        data: vals.map(function (v) { return [1, v, majors.indexOf(v) >= 0 ? 1 : 0]; }),
        renderItem: function (params, api) {
            var cs = params.coordSys;
            var y = api.coord([1, api.value(1)])[1];
            var len = api.value(2) ? 9 : 5;
            var kids = [
                {type: 'line', shape: {x1: cs.x, y1: y, x2: cs.x + len, y2: y}, style: {stroke: '#000', lineWidth: 1.6}},
                {type: 'line', shape: {x1: cs.x + cs.width, y1: y, x2: cs.x + cs.width - len, y2: y}, style: {stroke: '#000', lineWidth: 1.6}}
            ];
            if (withLabels) {
                kids.push({type: 'text', x: cs.x - 6, y: y,
                    style: {text: api.value(1).toFixed(1), fill: '#000', fontSize: 13, fontFamily: font, align: 'right', verticalAlign: 'middle'}});
            }
            return {type: 'group', children: kids};
        }
    };
}

var chartDom = document.getElementById('main');
var myChart = echarts.init(chartDom);
var option;

var plus = 'path://M45,0 L55,0 L55,45 L100,45 L100,55 L55,55 L55,100 L45,100 L45,55 L0,55 L0,45 L45,45 Z';

option = {
    animation: false,
    backgroundColor: '#fff',
    grid: [
        {left: 83, top: 22, width: 410, height: 275, show: true, borderColor: '#000', borderWidth: 2},
        {left: 83, top: 325, width: 410, height: 138, show: true, borderColor: '#000', borderWidth: 2}
    ],
    legend: {
        orient: 'vertical',
        left: 105,
        top: 204,
        itemWidth: 15,
        itemHeight: 15,
        itemGap: 6,
        icon: plus,
        data: names,
        selectedMode: false,
        textStyle: {fontFamily: font, fontSize: 14, color: '#000', padding: [0, 0, 0, 8]}
    },
    xAxis: [
        {type: 'log', logBase: 10, gridIndex: 0, min: 0.8, max: 10,
            axisLine: {show: false}, axisTick: {show: false}, axisLabel: {show: false}, splitLine: {show: false}},
        {type: 'log', logBase: 10, gridIndex: 1, min: 0.8, max: 10,
            axisLine: {show: false}, axisTick: {show: false}, axisLabel: {show: false}, splitLine: {show: false},
            name: 'Energy [keV]', nameLocation: 'middle', nameGap: 28,
            nameTextStyle: {fontFamily: font, fontSize: 14.5, color: '#000'}}
    ],
    yAxis: [
        {type: 'log', logBase: 10, gridIndex: 0, min: 0.162, max: 14.1,
            axisLine: {show: false}, axisTick: {show: false}, splitLine: {show: false},
            axisLabel: {
                margin: 8,
                formatter: function (v) {
                    if (fluxMajor.indexOf(Math.round(v * 1000) / 1000) < 0) return '';
                    return '{a|10}{b|' + Math.round(Math.log(v) / Math.LN10) + '}';
                },
                rich: {
                    a: {fontFamily: font, fontSize: 13, color: '#000'},
                    b: {fontFamily: font, fontSize: 9, color: '#000', verticalAlign: 'top'}
                }
            },
            name: 'Photons cm{s|\u22122} s{s|\u22121} keV{s|\u22121}', nameLocation: 'middle', nameGap: 36,
            nameTextStyle: {fontFamily: font, fontSize: 14.5, color: '#000',
                rich: {s: {fontFamily: font, fontSize: 10, color: '#000', verticalAlign: 'top'}}}},
        {type: 'value', gridIndex: 1, min: 0.4, max: 1.5,
            axisLine: {show: false}, axisTick: {show: false}, axisLabel: {show: false}, splitLine: {show: false},
            name: 'Ratio', nameLocation: 'middle', nameGap: 36,
            nameTextStyle: {fontFamily: font, fontSize: 14.5, color: '#000'}}
    ],
    series: [
        errSeries(names[0], colors[0], merged(xrt1Spec, xrt1SpecFine), 0, 0.05, 1, 2, 1),
        errSeries(names[1], colors[1], merged(xrt2Spec, xrt2SpecFine), 0, 0.05, 1, 3, 1),
        errSeries(names[2], colors[2], merged(hegSpec, hegSpecFine), 0, 0.05, 0.7, 4, 1.2),
        errSeries(names[3], colors[3], merged(megSpec, megSpecFine), 0, 0.05, 0.6, 5, 1.2),
        errSeries(names[2], colors[2], merged(hegRatio, hegRatioFine), 1, 0, 0.7, 2, 1.2),
        errSeries(names[3], colors[3], merged(megRatio, megRatioFine), 1, 0, 0.6, 3, 1.2),
        errSeries(names[1], colors[1], xrt2Ratio, 1, 0, 1, 4, 1),
        errSeries(names[0], colors[0], xrt1Ratio, 1, 0, 1, 5, 1),
        {type: 'line', xAxisIndex: 1, yAxisIndex: 1, data: unityLine, symbol: 'none', silent: true, z: 8,
            lineStyle: {color: '#000', width: 2}},
        xTicks(0, false),
        xTicks(1, true),
        yTicks(0, fluxTicks, fluxMajor, false),
        yTicks(1, ratioTicks, ratioTicks, true)
    ]
};

option && myChart.setOption(option);
</script>
</body>
</html>
